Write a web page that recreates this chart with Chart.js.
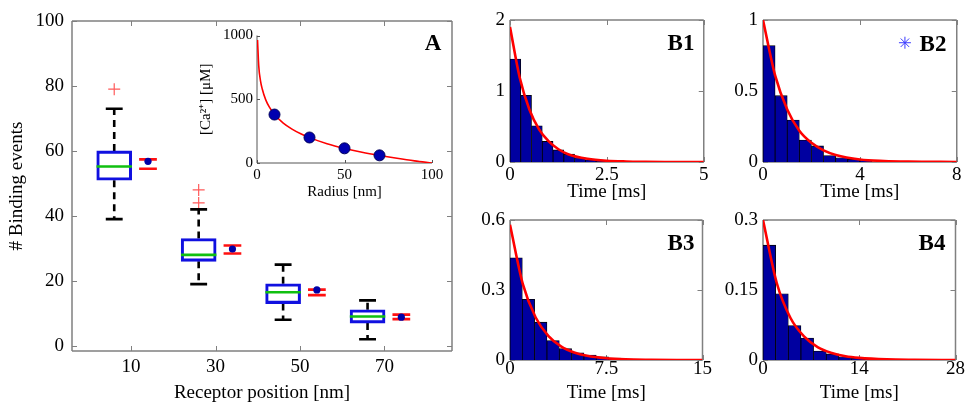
<!DOCTYPE html>
<html>
<head>
<meta charset="utf-8">
<script src="https://cdn.jsdelivr.net/npm/chart.js@4.4.1/dist/chart.umd.min.js"></script>
<style>
  body { margin: 0; background: #fff; width: 965px; height: 404px; position: relative; overflow: hidden; font-family: 'Liberation Serif', serif; }
  canvas { position: absolute; }
  .tag { position: absolute; font-weight: bold; font-size: 23px; line-height: 1; transform: translate(-50%, -50%); }
</style>
</head>
<body>
<canvas id="chartA" width="470" height="404" style="left:0px;top:0px"></canvas>
<canvas id="chartInset" width="262" height="181" style="left:190px;top:24px"></canvas>
<canvas id="chartB1" width="252" height="205" style="left:460px;top:0px"></canvas>
<canvas id="chartB2" width="253" height="205" style="left:712px;top:0px"></canvas>
<canvas id="chartB3" width="252" height="204" style="left:460px;top:200px"></canvas>
<canvas id="chartB4" width="253" height="204" style="left:712px;top:200px"></canvas>
<div class="tag" style="left:433px;top:42px">A</div>
<div class="tag" style="left:681px;top:42px">B1</div>
<div class="tag" style="left:933px;top:43px">B2</div>
<div class="tag" style="left:681px;top:242px">B3</div>
<div class="tag" style="left:932px;top:242px">B4</div>
<script>
// ---- panel A: binding events per receptor position ----
const positions = [10, 30, 50, 70];
const q1 = [51, 26, 13, 7];
const q3 = [60, 33, 19.1, 11.1];
const medians = [55.2, 28, 16.5, 9];
const whiskLo = [39, 19, 8, 2];
const whiskHi = [73, 42, 25, 14];
const outliers = [[79], [44, 48], [], []];
const modelMean = [56.8, 29.8, 17.2, 8.8];
const modelHi = [57.4, 30.9, 17.3, 9.6];
const modelLo = [54.5, 28.4, 15.6, 8.2];

// ---- inset: calcium profile ----
const radius = [0.3, 1, 2, 3, 5, 7, 10, 15, 20, 25, 30, 40, 50, 60, 70, 80, 90, 100];
const calcium = [965, 760, 645, 580, 495, 440, 380, 313, 266, 229, 199, 151, 114, 84, 59, 37, 17, 0];
const sampleRadius = [10, 30, 50, 70];
const sampleCalcium = [380, 200, 115, 60];

// ---- B panels: histograms of binding times ----
const b1Bins = [0.139, 0.417, 0.694, 0.972, 1.25, 1.528, 1.806, 2.083, 2.361];
const b1Counts = [1.45, 0.94, 0.51, 0.29, 0.17, 0.11, 0.06, 0.03, 0.015];
const b1FitT = [0, 0.25, 0.5, 0.75, 1, 1.25, 1.5, 2, 2.5, 3, 3.5, 4, 5];
const b1FitY = [1.9, 1.19, 0.74, 0.46, 0.29, 0.18, 0.11, 0.045, 0.017, 0.007, 0.003, 0.001, 0];

const b2Bins = [0.25, 0.75, 1.25, 1.75, 2.25, 2.75, 3.25, 3.75, 4.25];
const b2Counts = [0.82, 0.467, 0.296, 0.155, 0.113, 0.045, 0.03, 0.02, 0.01];
const b2FitT = [0, 0.5, 1, 1.5, 2, 2.5, 3, 4, 5, 6, 8];
const b2FitY = [1, 0.61, 0.37, 0.22, 0.135, 0.082, 0.05, 0.018, 0.007, 0.0025, 0];

const b3Bins = [0.48, 1.44, 2.4, 3.36, 4.32, 5.28, 6.24, 7.2, 8.16];
const b3Counts = [0.438, 0.26, 0.162, 0.083, 0.049, 0.031, 0.021, 0.014, 0.008];
const b3FitT = [0, 1, 2, 3, 4, 5, 6, 7.5, 9, 11, 13, 15];
const b3FitY = [0.58, 0.325, 0.182, 0.102, 0.057, 0.032, 0.018, 0.0075, 0.003, 0.001, 0, 0];

const b4Bins = [0.92, 2.76, 4.6, 6.44, 8.28, 10.12, 11.96, 13.8, 15.64];
const b4Counts = [0.246, 0.142, 0.074, 0.047, 0.019, 0.013, 0.007, 0.004, 0.002];
const b4FitT = [0, 2, 4, 6, 8, 10, 12, 14, 18, 22, 28];
const b4FitY = [0.3, 0.165, 0.09, 0.05, 0.027, 0.015, 0.008, 0.0045, 0.0013, 0.0004, 0];

const b2Star = [{ x: 5.86, y: 0.84 }];

Chart.defaults.font.family = "'Liberation Serif', 'Times New Roman', serif";
Chart.defaults.color = '#000';

const boxShift = -4;   // box plots sit left of the tick
const modelShift = 4;  // model markers sit right of the tick
const axisGray = '#808080';

// matlab style frame: axis lines on chosen sides plus short inward ticks
const framePlugin = {
  id: 'frame',
  beforeDatasetsDraw(chart) {
    const opts = chart.options.frameStyle || {};
    const { ctx, chartArea: a, scales } = chart;
    const sides = opts.sides || 'lbtr';
    const tl = opts.tick || 5;
    ctx.save();
    ctx.strokeStyle = opts.color || axisGray;
    ctx.lineWidth = opts.width || 1.5;
    ctx.beginPath();
    if (sides.includes('l')) { ctx.moveTo(a.left, a.top); ctx.lineTo(a.left, a.bottom); }
    if (sides.includes('r')) { ctx.moveTo(a.right, a.top); ctx.lineTo(a.right, a.bottom); }
    if (sides.includes('t')) { ctx.moveTo(a.left, a.top); ctx.lineTo(a.right, a.top); }
    if (sides.includes('b')) { ctx.moveTo(a.left, a.bottom); ctx.lineTo(a.right, a.bottom); }
    ctx.stroke();
    ctx.lineWidth = 1;
    ctx.beginPath();
    scales.x.ticks.forEach(t => {
      const px = Math.round(scales.x.getPixelForValue(t.value)) + 0.5;
      if (sides.includes('b')) { ctx.moveTo(px, a.bottom); ctx.lineTo(px, a.bottom - tl); }
      if (sides.includes('t')) { ctx.moveTo(px, a.top); ctx.lineTo(px, a.top + tl); }
    });
    scales.y.ticks.forEach(t => {
      const py = Math.round(scales.y.getPixelForValue(t.value)) + 0.5;
      if (sides.includes('l')) { ctx.moveTo(a.left, py); ctx.lineTo(a.left + tl, py); }
      if (sides.includes('r')) { ctx.moveTo(a.right, py); ctx.lineTo(a.right - tl, py); }
    });
    ctx.stroke();
    ctx.restore();
  }
};

function fixedTicks(values) {
  return scale => { scale.ticks = values.map(v => ({ value: v })); };
}

// turn a list of [x1,y1,x2,y2] into one broken line
function segments(list) {
  const pts = [];
  list.forEach(s => {
    pts.push({ x: s[0], y: s[1] }, { x: s[2], y: s[3] }, { x: s[2], y: null });
  });
  return pts;
}

function plainScales(o) {
  const font = { size: o.font || 19, lineHeight: 1 };
  return {
    x: {
      type: 'linear', min: o.xMin, max: o.xMax, offset: false,
      grid: { display: false, drawTicks: false, offset: false }, border: { display: false },
      afterBuildTicks: fixedTicks(o.xTicks),
      afterFit: s => { s.height = o.bottom; },
      ticks: { font, padding: o.xPad, maxRotation: 0, callback: v => String(v) },
      title: o.xTitle ? { display: true, text: o.xTitle, font, padding: { top: 0, bottom: o.xTitlePad } } : { display: false }
    },
    y: {
      type: 'linear', min: o.yMin, max: o.yMax,
      grid: { display: false, drawTicks: false }, border: { display: false },
      afterBuildTicks: fixedTicks(o.yTicks),
      afterFit: s => { s.width = o.left; },
      ticks: { font, padding: o.yPad, callback: v => String(v) },
      title: o.yTitle ? { display: true, text: o.yTitle, font, padding: { top: o.yTitlePad, bottom: 0 } } : { display: false }
    }
  };
}

function baseOptions(pad, frame) {
  return {
    responsive: false,
    animation: false,
    devicePixelRatio: 1,
    layout: { padding: pad },
    frameStyle: frame,
    plugins: { legend: { display: false }, tooltip: { enabled: false } }
  };
}

// ---------- panel A ----------
const boxData = positions.map((p, i) => ({ x: p + boxShift, y: [q1[i], q3[i]] }));
const medianLines = segments(positions.map((p, i) => [p + boxShift - 4.2, medians[i], p + boxShift + 4.2, medians[i]]));
const whiskerLines = segments(positions.flatMap((p, i) => [
  [p + boxShift, q3[i], p + boxShift, whiskHi[i]],
  [p + boxShift, q1[i], p + boxShift, whiskLo[i]]
]));
const capLines = segments(positions.flatMap((p, i) => [
  [p + boxShift - 2, whiskHi[i], p + boxShift + 2, whiskHi[i]],
  [p + boxShift - 2, whiskLo[i], p + boxShift + 2, whiskLo[i]]
]));
const outlierPts = positions.flatMap((p, i) => outliers[i].map(v => ({ x: p + boxShift, y: v })));
const modelLines = segments(positions.flatMap((p, i) => [
  [p + modelShift - 2.1, modelHi[i], p + modelShift + 2.1, modelHi[i]],
  [p + modelShift - 2.1, modelLo[i], p + modelShift + 2.1, modelLo[i]]
]));
const modelPts = positions.map((p, i) => ({ x: p + modelShift, y: modelMean[i] }));

new Chart(document.getElementById('chartA'), {
  type: 'bar',
  data: {
    datasets: [
      { type: 'scatter', data: modelPts, order: 0, pointRadius: 3.6, backgroundColor: '#0000a8', borderColor: '#0000a8', borderWidth: 0 },
      { type: 'line', data: modelLines, order: 1, borderColor: '#ff1010', borderWidth: 2.6, pointRadius: 0, spanGaps: false },
      { type: 'line', data: medianLines, order: 2, borderColor: '#10c010', borderWidth: 2.6, pointRadius: 0, spanGaps: false },
      { type: 'bar', data: boxData, order: 3, barThickness: 35, borderSkipped: false, borderColor: '#1010e0', borderWidth: 2.4, backgroundColor: 'rgba(255,255,255,0)' },
      { type: 'line', data: whiskerLines, order: 4, borderColor: '#000', borderWidth: 2.6, borderDash: [7, 5], pointRadius: 0, spanGaps: false },
      { type: 'line', data: capLines, order: 4, borderColor: '#000', borderWidth: 2.6, pointRadius: 0, spanGaps: false },
      { type: 'scatter', data: outlierPts, order: 4, pointStyle: 'cross', pointRadius: 6, borderColor: '#ff5a5a', borderWidth: 1.2 }
    ]
  },
  options: {
    ...baseOptions({ top: 21, right: 18 }, { sides: 'lbtr' }),
    scales: plainScales({
      xMin: -4, xMax: 86, xTicks: positions, yMin: -1.6, yMax: 100, yTicks: [0, 20, 40, 60, 80, 100],
      left: 72, bottom: 53, xPad: 6.5, yPad: 8,
      xTitle: 'Receptor position [nm]', xTitlePad: 1, yTitle: '# Binding events', yTitlePad: 8
    })
  },
  plugins: [framePlugin]
});

// ---------- inset ----------
new Chart(document.getElementById('chartInset'), {
  type: 'scatter',
  data: {
    datasets: [
      { data: sampleRadius.map((r, i) => ({ x: r, y: sampleCalcium[i] })), order: 0, pointRadius: 5.5, backgroundColor: '#0000b0', borderColor: '#00005a', borderWidth: 1 },
      { type: 'line', data: radius.map((r, i) => ({ x: r, y: calcium[i] })), order: 1, borderColor: '#ff0000', borderWidth: 1.6, pointRadius: 0, cubicInterpolationMode: 'monotone' }
    ]
  },
  options: {
    ...baseOptions({ top: 8, right: 20 }, { sides: 'lb', color: '#555', width: 1, tick: 3 }),
    scales: plainScales({
      xMin: 0, xMax: 100, xTicks: [0, 50, 100], yMin: 0, yMax: 1000, yTicks: [0, 500, 1000],
      left: 67, bottom: 42, xPad: 4.5, yPad: 4, font: 15,
      xTitle: 'Radius [nm]', xTitlePad: 5, yTitle: '[Ca\u00B2\u207A] [\u03BCM]', yTitlePad: 9
    })
  },
  plugins: [framePlugin]
});

// ---------- B panels ----------
function histChart(id, bins, counts, fitT, fitY, axes, extra) {
  const datasets = [
    { type: 'line', data: fitT.map((t, i) => ({ x: t, y: fitY[i] })), order: 0, borderColor: '#ff0000', borderWidth: 2.6, pointRadius: 0, cubicInterpolationMode: 'monotone' },
    { type: 'bar', data: bins.map((b, i) => ({ x: b, y: counts[i] })), order: 1, barPercentage: 1, categoryPercentage: 1, backgroundColor: '#0000a0', borderColor: '#000', borderWidth: 0.8 }
  ];
  if (extra) datasets.push(extra);
  new Chart(document.getElementById(id), {
    type: 'bar',
    data: { datasets },
    options: { ...baseOptions({ top: axes.top, right: axes.right }, { sides: 'lbtr' }), scales: plainScales(axes) },
    plugins: [framePlugin]
  });
}

histChart('chartB1', b1Bins, b1Counts, b1FitT, b1FitY, {
  xMin: 0, xMax: 5, xTicks: [0, 2.5, 5], yMin: 0, yMax: 2, yTicks: [0, 1, 2],
  left: 50, right: 7, top: 20, bottom: 43, xPad: 3.5, yPad: 5, xTitle: 'Time [ms]', xTitlePad: 3.5
});
histChart('chartB2', b2Bins, b2Counts, b2FitT, b2FitY, {
  xMin: 0, xMax: 8, xTicks: [0, 4, 8], yMin: 0, yMax: 1, yTicks: [0, 0.5, 1],
  left: 51, right: 8, top: 20, bottom: 43, xPad: 3.5, yPad: 5, xTitle: 'Time [ms]', xTitlePad: 3.5
}, { type: 'scatter', data: b2Star, order: 0, pointStyle: 'star', pointRadius: 6, borderColor: '#3a3aff', borderWidth: 1 });
histChart('chartB3', b3Bins, b3Counts, b3FitT, b3FitY, {
  xMin: 0, xMax: 15, xTicks: [0, 7.5, 15], yMin: 0, yMax: 0.6, yTicks: [0, 0.3, 0.6],
  left: 50, right: 7, top: 20, bottom: 44, xPad: 0, yPad: 5, xTitle: 'Time [ms]', xTitlePad: 1.5
});
histChart('chartB4', b4Bins, b4Counts, b4FitT, b4FitY, {
  xMin: 0, xMax: 28, xTicks: [0, 14, 28], yMin: 0, yMax: 0.3, yTicks: [0, 0.15, 0.3],
  left: 51, right: 8, top: 20, bottom: 44, xPad: 0, yPad: 5, xTitle: 'Time [ms]', xTitlePad: 1.5
});
</script>
</body>
</html>
